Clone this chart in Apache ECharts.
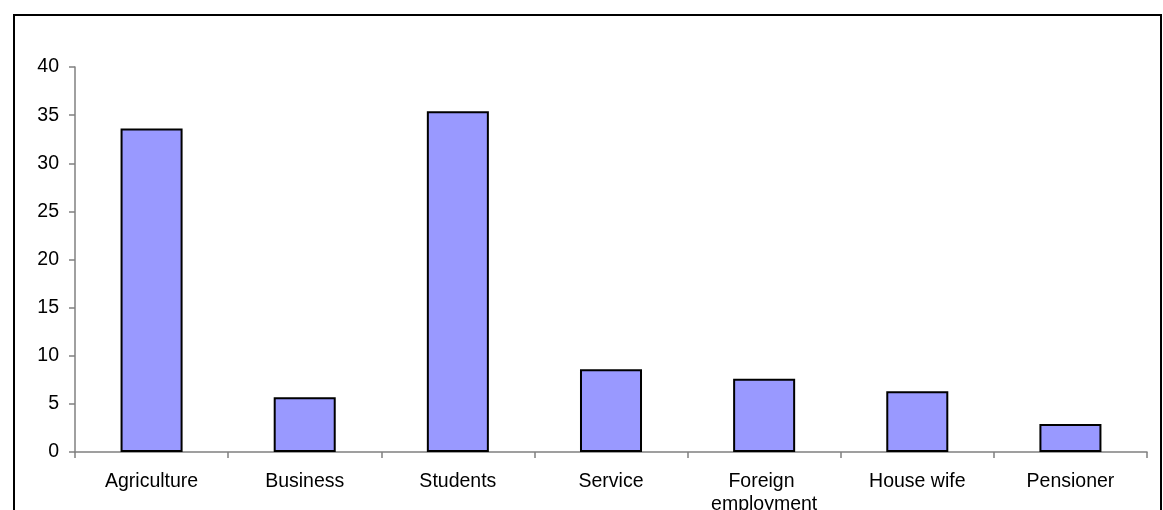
<!DOCTYPE html>
<html>
<head>
<meta charset="utf-8">
<script src="https://cdn.jsdelivr.net/npm/echarts@6/dist/echarts.min.js"></script>
<style>
html,body{margin:0;padding:0;background:#fff;}
#chart{width:1163px;height:510px;}
</style>
</head>
<body>
<div id="chart"></div>
<script>
const categories = ["Agriculture", "Business", "Students", "Service", "Foreign employment", "House wife", "Pensioner"];
const values = [33.6, 5.7, 35.4, 8.6, 7.6, 6.3, 2.9];
const yTicks = {min: 0, max: 40, interval: 5};

const chart = echarts.init(document.getElementById('chart'), null, {renderer: 'canvas'});
chart.setOption({
  animation: false,
  backgroundColor: '#ffffff',
  graphic: [{
    type: 'rect',
    shape: {x: 14, y: 15, width: 1147, height: 520},
    style: {fill: 'none', stroke: '#000', lineWidth: 2},
    silent: true
  }],
  grid: {left: 75, right: 16, top: 67, bottom: 58, containLabel: false, outerBoundsMode: 'none'},
  xAxis: {
    type: 'category',
    data: categories,
    axisLine: {lineStyle: {color: '#808080', width: 1.5}},
    axisTick: {show: true, alignWithLabel: false, length: 6, lineStyle: {color: '#808080', width: 1.5}},
    axisLabel: {
      color: '#000', fontFamily: 'Liberation Sans, Arial', fontSize: 19.5,
      margin: 18, width: 150, overflow: 'break', lineHeight: 23, interval: 0
    },
    splitLine: {show: false}
  },
  yAxis: {
    type: 'value',
    min: yTicks.min, max: yTicks.max, interval: yTicks.interval,
    axisLine: {show: true, lineStyle: {color: '#808080', width: 1.5}},
    axisTick: {show: true, length: 6, lineStyle: {color: '#808080', width: 1.5}},
    axisLabel: {color: '#000', fontFamily: 'Liberation Sans, Arial', fontSize: 19.5, margin: 16},
    splitLine: {show: false}
  },
  series: [{
    type: 'bar',
    data: values,
    barWidth: '40.5%',
    itemStyle: {color: '#9999FF', borderColor: '#000', borderWidth: 2}
  }]
});
</script>
</body>
</html>
